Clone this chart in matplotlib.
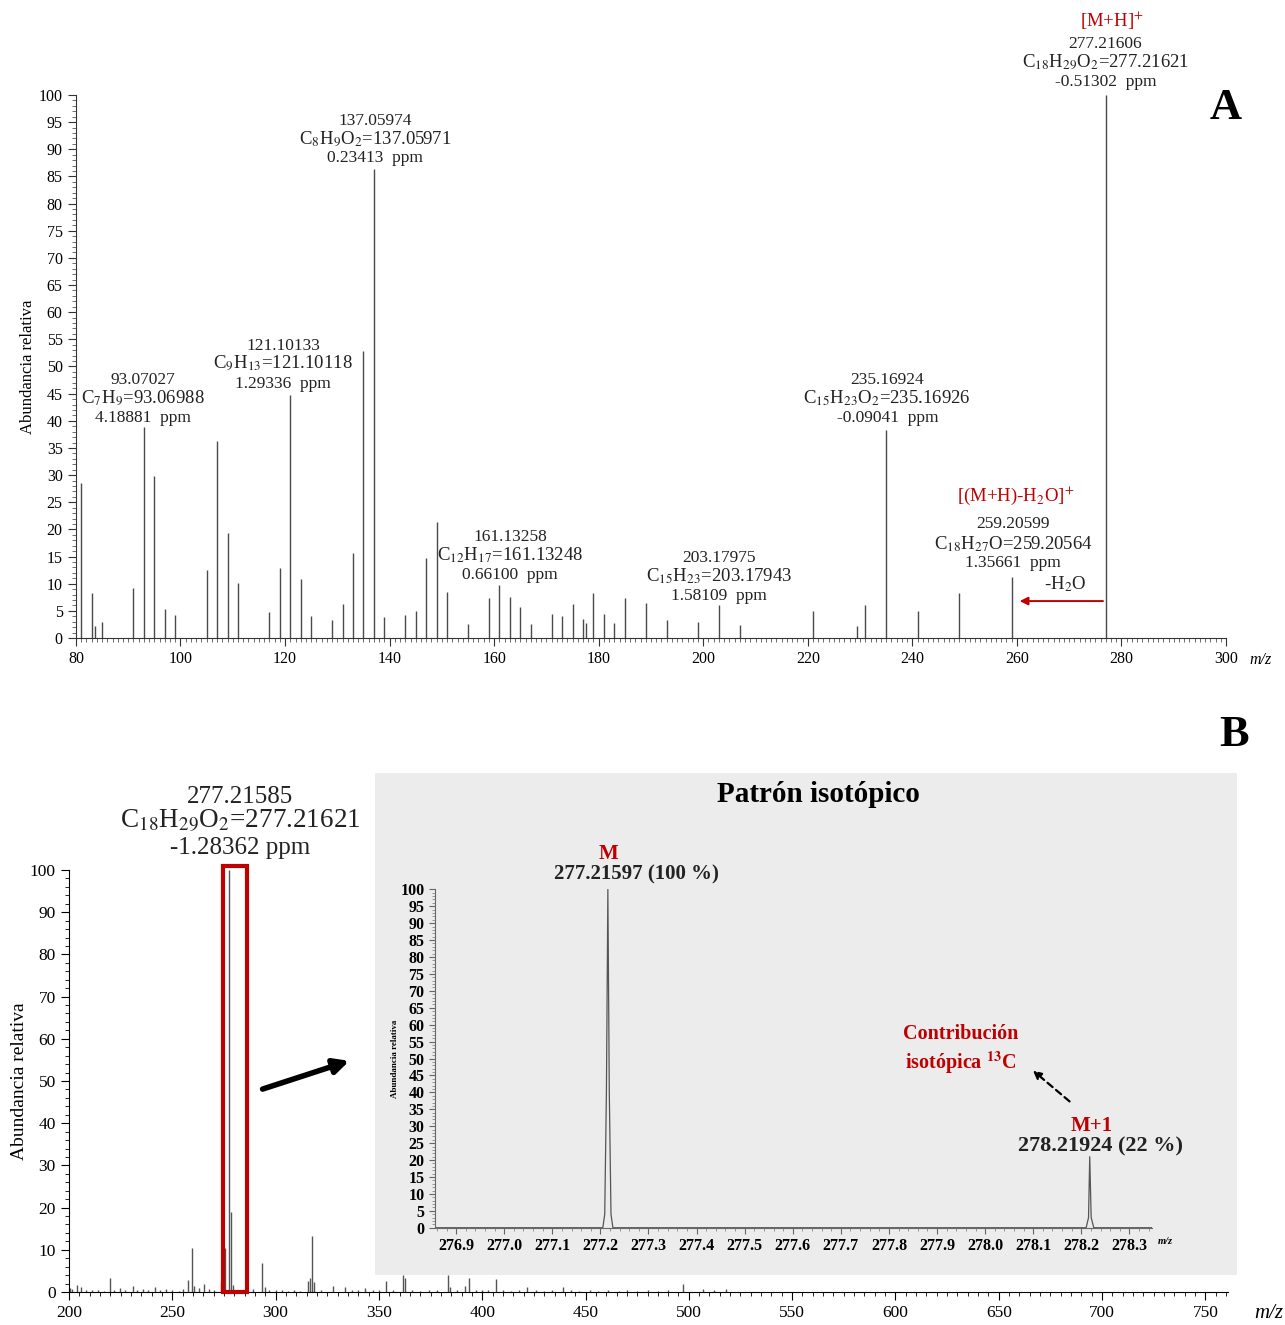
import numpy as np
import matplotlib
matplotlib.use("Agg")
from matplotlib import pyplot as plt
from matplotlib.patches import Rectangle, FancyArrowPatch
from matplotlib.ticker import MultipleLocator

plt.rcParams['font.family'] = ['Liberation Serif', 'DejaVu Serif']
plt.rcParams['mathtext.fontset'] = 'stix'

RED = '#c00000'
INK = '#222222'

# ---------------- panel A data (MS/MS spectrum) ----------------
a_mz = [81, 83, 83.6, 85, 91, 93, 95, 97, 99, 105, 107, 109, 111, 117, 119, 121,
        123, 125, 129, 131, 133, 135, 137, 139, 143, 145, 147, 149, 151, 155,
        159, 161, 163, 165, 167, 171, 173, 175, 177, 177.6, 179, 181, 183, 185,
        189, 193, 199, 203, 207, 221, 229.5, 231, 235, 241, 249, 259, 277]
a_int = [28.5, 8.3, 2.2, 2.9, 9.2, 38.8, 29.8, 5.3, 4.3, 12.5, 36.2, 19.4, 10.1,
         4.7, 12.9, 44.8, 10.8, 4.1, 3.3, 6.2, 15.7, 52.8, 86.3, 3.9, 4.2, 5.0,
         14.8, 21.3, 8.4, 2.6, 7.4, 9.8, 7.5, 5.7, 2.5, 4.4, 4.1, 6.2, 3.5, 2.7,
         8.3, 4.4, 2.8, 7.4, 6.4, 3.4, 3.0, 6.0, 2.3, 5.0, 2.2, 6.0, 38.3, 5.0,
         8.2, 11.2, 100]

# annotation blocks: (x centre, y of 3 lines, texts)
a_labels = [
    (92.8, [47.5, 44.2, 40.5], ['93.07027', r'C$_{7}$H$_{9}$=93.06988', '4.18881  ppm']),
    (119.6, [53.8, 50.5, 46.8], ['121.10133', r'C$_{9}$H$_{13}$=121.10118', '1.29336  ppm']),
    (137.2, [95.2, 91.9, 88.4], ['137.05974', r'C$_{8}$H$_{9}$O$_{2}$=137.05971', '0.23413  ppm']),
    (163.0, [18.6, 15.3, 11.6], ['161.13258', r'C$_{12}$H$_{17}$=161.13248', '0.66100  ppm']),
    (203.0, [14.7, 11.4, 7.7], ['203.17975', r'C$_{15}$H$_{23}$=203.17943', '1.58109  ppm']),
    (235.2, [47.5, 44.2, 40.5], ['235.16924', r'C$_{15}$H$_{23}$O$_{2}$=235.16926', '-0.09041  ppm']),
    (259.3, [21.0, 17.3, 13.8], ['259.20599', r'C$_{18}$H$_{27}$O=259.20564', '1.35661  ppm']),
    (276.9, [109.4, 106.1, 102.4], ['277.21606', r'C$_{18}$H$_{29}$O$_{2}$=277.21621', '-0.51302  ppm']),
]

# ---------------- panel B data (full scan) ----------------
b_mz = [200.5, 201.5, 203.7, 205.8, 208, 211, 214, 217, 219.7, 222, 224.8, 227,
        230.8, 233, 235.7, 238, 241.6, 244, 247, 250, 253, 255, 257.6, 259.7,
        260.7, 263.1, 265.5, 268, 270, 273.6, 275.5, 277.2, 278.6, 279.6, 282,
        289, 293.4, 294.7, 297, 300, 303, 306, 309, 312, 315.6, 316.5, 317.6,
        318.8, 322, 327.7, 333.6, 337, 340, 343.5, 347, 350, 353.6, 357, 361.7,
        362.8, 366, 370, 374, 378, 383.5, 384.6, 388, 391.7, 393.8, 397, 400,
        403, 406.6, 410, 414, 418, 421.9, 426, 430, 434, 439.3, 443, 447, 452,
        456, 461, 466, 470, 475, 480, 485, 490, 497, 506.8, 512, 518]
b_int = [1.0, 0.6, 1.7, 1.2, 0.5, 0.4, 0.5, 0.3, 3.4, 0.5, 1.0, 0.4,
         1.5, 0.4, 0.8, 0.5, 1.2, 0.4, 0.6, 0.5, 0.3, 0.6, 2.8, 10.5,
         1.4, 1.0, 2.0, 0.6, 0.5, 2.5, 10.5, 100, 18.9, 1.6, 0.5,
         0.8, 6.9, 1.2, 0.5, 0.4, 0.5, 0.3, 0.4, 0.3, 2.6, 3.4, 13.2,
         2.4, 0.4, 1.5, 1.1, 0.4, 0.5, 1.0, 0.4, 0.5, 2.5, 0.4, 4.0,
         3.3, 0.4, 0.3, 0.5, 0.4, 4.0, 1.2, 0.4, 1.5, 3.4, 0.4, 0.5,
         0.4, 3.0, 0.4, 0.3, 0.4, 1.3, 0.4, 0.3, 0.4, 1.3, 0.4, 0.3, 0.5,
         0.3, 0.4, 0.3, 0.4, 0.3, 0.4, 0.3, 0.4, 2.0, 0.8, 0.5, 0.6]

# ---------------- inset data (isotope pattern, profile points) ----------------
iso_mz = [276.85, 277.205, 277.209, 277.2125, 277.2155, 277.2185, 277.222, 277.226,
          278.21, 278.215, 278.2175, 278.2205, 278.226, 278.35]
iso_int = [0, 0, 4, 40, 100, 40, 4, 0,
           0, 3, 21, 3, 0, 0]

fig = plt.figure(figsize=(12.85, 13.25), dpi=100)

# ================= panel A =================
axA = fig.add_axes([0.0591, 0.5185, 0.895, 0.4098])
axA.vlines(a_mz, 0, a_int, color='#4a4a4a', lw=1.0)
axA.set_xlim(80, 300)
axA.set_ylim(0, 100)
for s in ['top', 'right']:
    axA.spines[s].set_visible(False)
axA.spines['left'].set_color('#333333')
axA.spines['bottom'].set_color('#333333')
axA.xaxis.set_major_locator(MultipleLocator(20))
axA.xaxis.set_minor_locator(MultipleLocator(1))
axA.yaxis.set_major_locator(MultipleLocator(5))
axA.yaxis.set_minor_locator(MultipleLocator(1))
axA.tick_params(which='major', direction='out', length=6, labelsize=11.5, color='#333333')
axA.tick_params(which='minor', direction='out', length=3, color='#555555')
axA.set_ylabel('Abundancia relativa', fontsize=12, labelpad=2)
axA.text(1.03, -0.04, 'm/z', style='italic', fontsize=11.5, transform=axA.transAxes,
         ha='center', va='center')

for xc, ys, lines in a_labels:
    for i, (y, t) in enumerate(zip(ys, lines)):
        fs = 13.5 if i == 1 else 12.5
        axA.text(xc, y, t, ha='center', va='center', fontsize=fs, color=INK, clip_on=False)

axA.text(278.2, 113.6, r'[M+H]$^{+}$', color=RED, ha='center', va='center', fontsize=13.5)
axA.text(259.7, 26.2, r'[(M+H)-H$_{2}$O]$^{+}$', color=RED, ha='center', va='center', fontsize=13.5)
axA.text(269.2, 9.9, r'-H$_{2}$O', ha='center', va='center', fontsize=13.5, color=INK)
axA.annotate('', xy=(260.0, 6.8), xytext=(277, 6.8),
             arrowprops=dict(arrowstyle='-|>', color=RED, lw=1.4, mutation_scale=12))
axA.text(1.0, 0.976, 'A', transform=axA.transAxes, fontsize=32, fontweight='bold',
         ha='center', va='center')

# ================= panel B =================
axB = fig.add_axes([0.0537, 0.0249, 0.902, 0.3185])
axB.vlines(b_mz, 0, b_int, color='#555555', lw=1.0)
axB.set_xlim(200, 761)
axB.set_ylim(0, 100)
for s in ['top', 'right']:
    axB.spines[s].set_visible(False)
axB.xaxis.set_major_locator(MultipleLocator(50))
axB.xaxis.set_minor_locator(MultipleLocator(5))
axB.yaxis.set_major_locator(MultipleLocator(10))
axB.yaxis.set_minor_locator(MultipleLocator(2))
axB.tick_params(which='major', direction='out', length=6, labelsize=12.5)
axB.tick_params(which='minor', direction='out', length=3)
axB.set_ylabel('Abundancia relativa', fontsize=14, labelpad=1)
axB.text(1.035, -0.05, 'm/z', style='italic', fontsize=15, transform=axB.transAxes,
         ha='center', va='center')

axB.add_patch(Rectangle((274.6, 0), 11.6, 101, fill=False, edgecolor=RED, lw=3, clip_on=False, zorder=3))
axB.text(282.8, 117.3, '277.21585', ha='center', va='center', fontsize=18, color=INK)
axB.text(282.8, 111.8, r'C$_{18}$H$_{29}$O$_{2}$=277.21621', ha='center', va='center', fontsize=19.5, color=INK)
axB.text(282.8, 105.2, '-1.28362 ppm', ha='center', va='center', fontsize=18, color=INK)
axB.text(1.005, 1.32, 'B', transform=axB.transAxes, fontsize=32, fontweight='bold',
         ha='center', va='center')

# grey background of the inset
fig.add_artist(Rectangle((0.2918, 0.0377), 0.6708, 0.3789, transform=fig.transFigure,
                         facecolor='#ececec', edgecolor='none', zorder=1))
fig.text(0.6366, 0.4, 'Patrón isotópico', ha='center', va='center', fontsize=21, fontweight='bold')

# black arrow from the box to the inset
fig.add_artist(FancyArrowPatch((0.2023, 0.1774), (0.2739, 0.2), transform=fig.transFigure,
               arrowstyle='-|>', mutation_scale=22, lw=4, color='black', zorder=2))

# ================= inset =================
axI = fig.add_axes([0.3385, 0.0734, 0.558, 0.2554], zorder=3)
axI.patch.set_alpha(0)
axI.plot(iso_mz, iso_int, color='#555555', lw=0.9)
axI.set_xlim(276.856, 278.347)
axI.set_ylim(0, 100)
for s in ['top', 'right']:
    axI.spines[s].set_visible(False)
axI.spines['left'].set_color('#666666')
axI.spines['bottom'].set_color('#666666')
axI.set_xticks(np.round(np.arange(276.9, 278.31, 0.1), 1))
axI.xaxis.set_minor_locator(MultipleLocator(0.02))
axI.yaxis.set_major_locator(MultipleLocator(5))
axI.yaxis.set_minor_locator(MultipleLocator(1))
axI.tick_params(which='major', direction='out', length=4, labelsize=11.5, color='#666666')
axI.tick_params(which='minor', direction='out', length=2, color='#888888')
axI.set_xticklabels([f'{v:.1f}' for v in axI.get_xticks()], fontweight='bold')
for lab in axI.get_yticklabels():
    lab.set_fontweight('bold')
axI.set_ylabel('Abundancia relativa', fontsize=6.5, fontweight='bold', labelpad=1)
axI.text(1.018, -0.042, 'm/z', style='italic', fontweight='bold', fontsize=7.5,
         transform=axI.transAxes, ha='center', va='center')

axI.text(277.216, 110.5, 'M', color=RED, fontweight='bold', fontsize=15, ha='center', va='center')
axI.text(277.274, 104.3, '277.21597 (100 %)', fontweight='bold', fontsize=15, ha='center', va='center', color=INK)
axI.text(278.221, 30.2, 'M+1', color=RED, fontweight='bold', fontsize=15, ha='center', va='center')
axI.text(278.240, 23.9, '278.21924 (22 %)', fontweight='bold', fontsize=16, ha='center', va='center', color=INK)
axI.text(277.95, 52.5, r'Contribución' + '\n' + r'isotópica $^{\mathbf{13}}$C', color=RED, fontweight='bold',
         fontsize=14.5, ha='center', va='center', linespacing=1.25)
axI.annotate('', xy=(278.095, 47.0), xytext=(278.18, 36.8),
             arrowprops=dict(arrowstyle='-|>', color='black', lw=1.6, linestyle=(0, (3, 2)),
                             mutation_scale=12))

fig.savefig('out.png', dpi=100)
